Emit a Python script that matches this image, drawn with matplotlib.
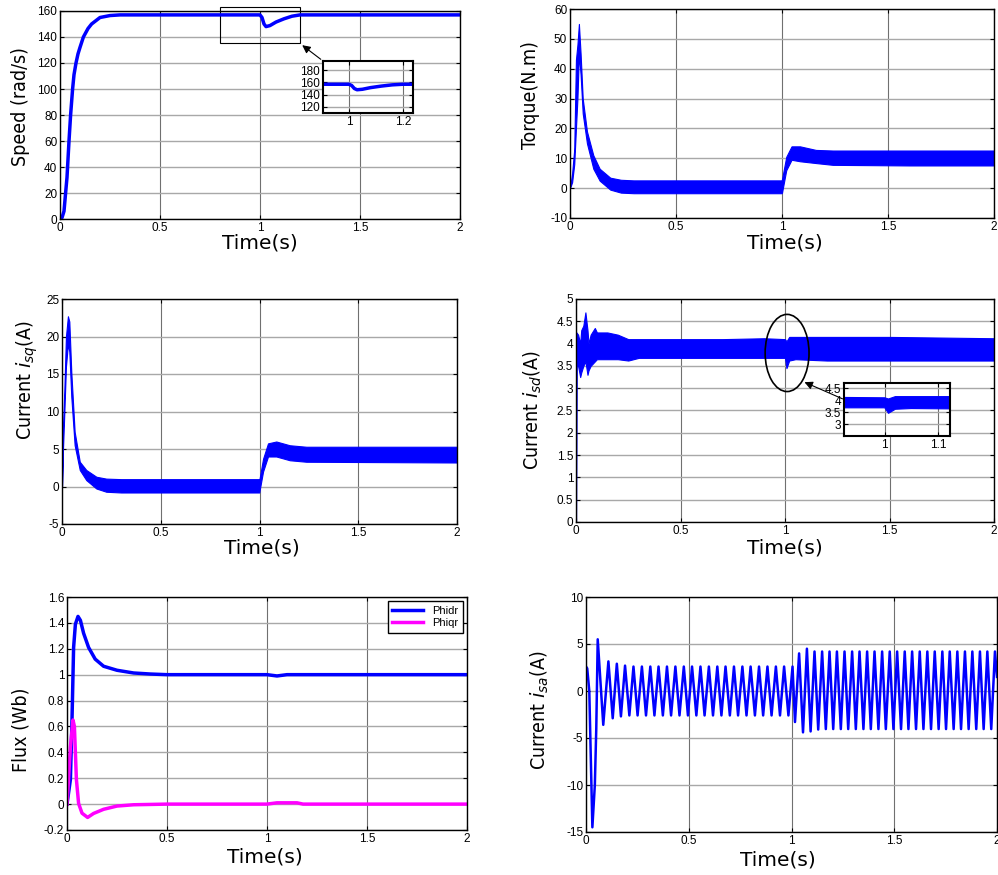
import numpy as np
import matplotlib
matplotlib.use("Agg")
import matplotlib.pyplot as plt
from matplotlib.patches import Rectangle, Ellipse
from matplotlib.ticker import FuncFormatter

# ---------------- data ----------------
# speed (rad/s)
speed_t = [0, 0.01, 0.02, 0.028, 0.035, 0.045, 0.053, 0.063, 0.07, 0.08, 0.09, 0.1, 0.117,
           0.14, 0.158, 0.2, 0.25, 0.3, 1.0, 1.01, 1.02, 1.03, 1.05, 1.08, 1.12, 1.16, 1.2, 2.0]
speed_w = [0, 1, 6, 20, 32, 60, 80, 100, 111, 120, 127, 132, 140,
           146.5, 150, 155, 156.5, 157, 157, 155, 150, 148, 148.8, 151.5, 154, 156, 157, 157]

# torque (N.m) band: upper / lower envelope
tq_t = [0, 0.01, 0.02, 0.028, 0.035, 0.042, 0.05, 0.06, 0.08, 0.11, 0.14, 0.19, 0.24, 0.3,
        0.6, 0.998, 1.0, 1.02, 1.045, 1.085, 1.16, 1.24, 1.6, 2.0]
tq_hi = [0, 5, 13, 43, 48, 55, 45, 30, 19, 11, 6.5, 3.5, 2.8, 2.6,
         2.6, 2.6, 3, 10.5, 14, 14, 12.8, 12.6, 12.6, 12.6]
tq_lo = [0, 2, 8, 20, 30, 45, 38, 25, 15, 6.5, 2.5, -0.5, -1.5, -1.7,
         -1.7, -1.7, -1.5, 6, 9.5, 9, 8.4, 7.8, 7.6, 7.6]

# isq (A) band
isq_t = [0, 0.005, 0.012, 0.02, 0.03, 0.037, 0.047, 0.064, 0.09, 0.123, 0.174, 0.224, 0.3,
         0.999, 1.0, 1.018, 1.043, 1.085, 1.153, 1.237, 2.0]
isq_hi = [0, 8, 13, 20, 22.7, 22, 15.3, 7.3, 3.3, 2.2, 1.3, 1.05, 0.98,
          0.98, 1.0, 3.7, 5.75, 6.0, 5.5, 5.3, 5.3]
isq_lo = [0, 5, 10, 16, 19, 18, 12, 5.5, 2.2, 0.85, -0.27, -0.7, -0.8,
          -0.8, -0.6, 2.0, 4.0, 4.0, 3.5, 3.3, 3.2]

# isd (A) band
isd_t = [0, 0.002, 0.01, 0.02, 0.025, 0.035, 0.045, 0.055, 0.06, 0.07, 0.09, 0.1, 0.15,
         0.2, 0.25, 0.3, 0.5, 0.7, 0.9, 1.0, 1.007, 1.02, 1.05, 1.2, 1.5, 2.0]
isd_hi = [0, 4.25, 4.2, 4.0, 4.3, 4.4, 4.7, 4.3, 4.0, 4.2, 4.35, 4.25, 4.25,
          4.2, 4.1, 4.1, 4.1, 4.1, 4.12, 4.1, 4.05, 4.15, 4.15, 4.15, 4.15, 4.12]
isd_lo = [0, 3.5, 3.5, 3.25, 3.35, 3.5, 3.6, 3.3, 3.4, 3.5, 3.6, 3.65, 3.65,
          3.65, 3.62, 3.68, 3.68, 3.68, 3.68, 3.68, 3.45, 3.62, 3.65, 3.62, 3.62, 3.62]

# rotor flux (Wb)
flux_t = [0, 0.017, 0.025, 0.033, 0.042, 0.055, 0.067, 0.083, 0.108, 0.141, 0.183, 0.25,
          0.333, 0.416, 0.5, 1.0, 1.05, 1.1, 2.0]
phidr = [0, 0.19, 0.65, 1.21, 1.39, 1.45, 1.42, 1.32, 1.21, 1.12, 1.065, 1.034,
         1.013, 1.005, 1.0, 1.0, 0.99, 1.0, 1.0]
phiq_t = [0, 0.017, 0.03, 0.037, 0.047, 0.058, 0.075, 0.103, 0.133, 0.183, 0.25, 0.333,
          0.5, 1.0, 1.05, 1.15, 1.18, 2.0]
phiqr = [0, 0.44, 0.65, 0.6, 0.19, 0.005, -0.07, -0.103, -0.072, -0.04, -0.015, -0.005,
         0, 0, 0.01, 0.01, 0, 0]

# isa (A): extremes of the stator current
isa_t = [0, 0.006, 0.016, 0.031, 0.043, 0.05, 0.057, 0.084,
         0.109, 0.130, 0.150, 0.170, 0.190, 0.211, 0.231, 0.251, 0.272, 0.292, 0.313, 0.333,
         0.353, 0.374, 0.394, 0.414, 0.435, 0.455, 0.476, 0.496, 0.516, 0.537, 0.557, 0.577,
         0.598, 0.618, 0.639, 0.659, 0.679, 0.700, 0.720, 0.740, 0.761, 0.781, 0.801, 0.822,
         0.842, 0.862, 0.883, 0.903, 0.924, 0.944, 0.964, 0.985, 1.005, 1.017,
         1.037, 1.056, 1.075, 1.093, 1.112, 1.130, 1.149, 1.167, 1.185, 1.203, 1.221, 1.240,
         1.258, 1.276, 1.295, 1.313, 1.331, 1.350, 1.368, 1.386, 1.404, 1.423, 1.441, 1.459,
         1.478, 1.496, 1.514, 1.533, 1.551, 1.569, 1.587, 1.606, 1.624, 1.642, 1.661, 1.679,
         1.697, 1.716, 1.734, 1.752, 1.770, 1.789, 1.807, 1.825, 1.844, 1.862, 1.880, 1.899,
         1.917, 1.935, 1.953, 1.972, 1.990, 2.0]
isa_v = [2.6, 2.4, 0, -14.5, -10, -4, 5.5, -3.6,
         3.15, -2.9, 2.9, -2.7, 2.7, -2.6, 2.6, -2.6, 2.6, -2.6, 2.6, -2.6,
         2.6, -2.6, 2.6, -2.6, 2.6, -2.6, 2.6, -2.6, 2.6, -2.6, 2.6, -2.6,
         2.6, -2.6, 2.6, -2.6, 2.6, -2.6, 2.6, -2.6, 2.6, -2.6, 2.6, -2.6,
         2.6, -2.6, 2.6, -2.6, 2.6, -2.6, 2.6, -2.6, 2.6, -3.3,
         4.0, -4.4, 4.5, -4.3, 4.2, -4.1, 4.2, -4.05, 4.2, -4.05, 4.2, -4.05,
         4.2, -4.05, 4.2, -4.05, 4.2, -4.05, 4.2, -4.05, 4.2, -4.05, 4.2, -4.05,
         4.2, -4.05, 4.2, -4.05, 4.2, -4.05, 4.2, -4.05, 4.2, -4.05, 4.2, -4.05,
         4.2, -4.05, 4.2, -4.05, 4.2, -4.05, 4.2, -4.05, 4.2, -4.05, 4.2, -4.05,
         4.2, -4.05, 4.2, -4.05, 4.2, 1.5]

x_ticks = [0, 0.5, 1, 1.5, 2]
BLUE = "#0000ff"
MAG = "#ff00ff"

W, H = 998, 875
fig = plt.figure(figsize=(W / 100, H / 100), dpi=100)
tick_font = {"family": "Liberation Sans", "size": 8.5}


def px_axes(l, r, t, b):
    return fig.add_axes([l / W, 1 - b / H, (r - l) / W, (b - t) / H])


def style(ax, yticks, ylim, xlim=(0, 2), xt=x_ticks):
    ax.set_xlim(*xlim)
    ax.set_ylim(*ylim)
    ax.set_xticks(xt)
    ax.set_yticks(yticks)
    fmt = FuncFormatter(lambda v, p: f"{v:g}")
    ax.xaxis.set_major_formatter(fmt)
    ax.yaxis.set_major_formatter(fmt)
    ax.tick_params(direction="in", top=True, right=True, length=3, pad=2,
                   labelsize=tick_font["size"])
    for lab in ax.get_xticklabels() + ax.get_yticklabels():
        lab.set_family(tick_font["family"])
    ax.grid(axis="x", color="#707070", lw=0.8)
    ax.grid(axis="y", color="#a8a8a8", lw=1.0)
    ax.set_axisbelow(True)
    for s in ax.spines.values():
        s.set_linewidth(1.0)


def xlabel(x, y):
    fig.text(x / W, 1 - y / H, "Time(s)", ha="center", va="center", fontsize=14.5,
             family="DejaVu Sans")


def ylabel(x, y, txt):
    fig.text(x / W, 1 - y / H, txt, ha="center", va="center", rotation=90,
             fontsize=14, family="DejaVu Sans", fontstretch="condensed")


# ---- speed ----
ax1 = px_axes(60, 460, 11, 219)
ax1.plot(speed_t, speed_w, color=BLUE, lw=2.5)
style(ax1, range(0, 161, 20), (0, 160))
ax1.add_patch(Rectangle((0.8, 135), 0.4, 28, fill=False, lw=0.8, ec="k", clip_on=False))
xlabel(260, 243)
ylabel(21, 107, "Speed (rad/s)")

in1 = px_axes(323, 413, 61, 113)
in1.plot(speed_t, speed_w, color=BLUE, lw=2.5)
style(in1, [120, 140, 160, 180], (110, 195), xlim=(0.904, 1.237), xt=[1, 1.2])
for s in in1.spines.values():
    s.set_linewidth(1.5)
ax1.annotate("", xy=(1.2, 135), xycoords="data", xytext=(0, 1), textcoords=in1.transAxes,
             arrowprops=dict(arrowstyle="-|>", color="k", lw=0.8, mutation_scale=12))

# ---- torque ----
ax2 = px_axes(570, 994, 9, 218)
ax2.fill_between(tq_t, tq_lo, tq_hi, color=BLUE, lw=0.8)
style(ax2, range(-10, 61, 10), (-10, 60))
xlabel(785, 243)
ylabel(531, 95, "Torque(N.m)")

# ---- isq ----
ax3 = px_axes(62, 457, 299, 524)
ax3.fill_between(isq_t, isq_lo, isq_hi, color=BLUE, lw=0.8)
style(ax3, range(-5, 26, 5), (-5, 25))
xlabel(262, 548)
ylabel(27, 380, "Current $i_{sq}$(A)")

# ---- isd ----
ax4 = px_axes(576, 994, 299, 522)
ax4.fill_between(isd_t, isd_lo, isd_hi, color=BLUE, lw=0.8)
style(ax4, np.arange(0, 5.01, 0.5), (0, 5))
ax4.add_patch(Ellipse((1.01, 3.79), 0.21, 1.73, fill=False, lw=1.2, ec="k"))
xlabel(785, 548)
ylabel(533, 410, "Current $i_{sd}$(A)")

in4 = px_axes(844, 950, 383, 436)
in4.fill_between(isd_t, isd_lo, isd_hi, color=BLUE, lw=0.8)
style(in4, [3, 3.5, 4, 4.5], (2.5, 4.72), xlim=(0.923, 1.123), xt=[1, 1.1])
for s in in4.spines.values():
    s.set_linewidth(1.5)
ax4.annotate("", xy=(1.081, 3.16), xycoords="data", xytext=(0.01, 0.68),
             textcoords=in4.transAxes,
             arrowprops=dict(arrowstyle="-|>", color="k", lw=0.8, mutation_scale=12))

# ---- flux ----
ax5 = px_axes(67, 467, 597, 830)
ax5.plot(flux_t, phidr, color=BLUE, lw=2.5, label="Phidr")
ax5.plot(phiq_t, phiqr, color=MAG, lw=2.5, label="Phiqr")
style(ax5, np.arange(-0.2, 1.61, 0.2), (-0.2, 1.6))
leg = ax5.legend(loc="upper right", prop={"family": "Liberation Sans", "size": 8},
                 fancybox=False, edgecolor="k", framealpha=1, handlelength=2.8,
                 borderaxespad=0.4, labelspacing=0.2)
leg.get_frame().set_linewidth(1.0)
xlabel(265, 857)
ylabel(21, 730, "Flux (Wb)")

# ---- isa ----
ax6 = px_axes(586, 997, 597, 832)
ax6.plot(isa_t, isa_v, color=BLUE, lw=1.8)
style(ax6, range(-15, 11, 5), (-15, 10))
xlabel(778, 860)
ylabel(540, 710, "Current $i_{sa}$(A)")

fig.savefig("out.png", dpi=100)
